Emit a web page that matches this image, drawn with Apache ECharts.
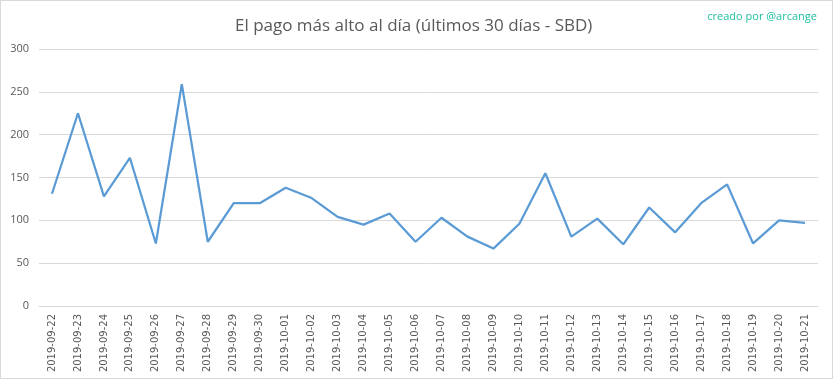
<!DOCTYPE html>
<html><head><meta charset="utf-8">
<script src="https://cdn.jsdelivr.net/npm/echarts@6/dist/echarts.min.js"></script>
<style>html,body{margin:0;padding:0;background:#fff}#c{width:833px;height:379px;box-sizing:border-box;border:1px solid #d9d9d9}</style>
</head><body><div id="c"></div>
<script>
const categories = ["2019-09-22","2019-09-23","2019-09-24","2019-09-25","2019-09-26","2019-09-27","2019-09-28","2019-09-29","2019-09-30","2019-10-01","2019-10-02","2019-10-03","2019-10-04","2019-10-05","2019-10-06","2019-10-07","2019-10-08","2019-10-09","2019-10-10","2019-10-11","2019-10-12","2019-10-13","2019-10-14","2019-10-15","2019-10-16","2019-10-17","2019-10-18","2019-10-19","2019-10-20","2019-10-21"];
const values = [131,225,128,173,73,259,75,120,120,138,126,104,95,108,75,103,81,67,96,155,81,102,72,115,86,120,142,73,100,97];
const yTicks = [0,50,100,150,200,250,300];
const titleText = "El pago más alto al día (últimos 30 días - SBD)";
const creditText = "creado por @arcange";

const chart = echarts.init(document.getElementById('c'), null, {renderer:'canvas'});
chart.setOption({
  animation:false,
  title:[
    {text:titleText,left:229,top:12,textStyle:{fontFamily:'Open Sans',fontWeight:'normal',fontSize:17,color:'#595959'}},
    {text:creditText,right:10,top:5,textStyle:{fontFamily:'Open Sans',fontWeight:'normal',fontSize:11,color:'#1fc0a0'}}
  ],
  grid:{left:38,right:14,top:48,bottom:72},
  xAxis:{type:'category',data:categories,boundaryGap:true,
    axisLine:{lineStyle:{color:'#d9d9d9'}},axisTick:{show:false},
    axisLabel:{rotate:90,interval:0,margin:8,color:'#595959',fontFamily:'DejaVu Sans',fontSize:10}},
  yAxis:{type:'value',min:yTicks[0],max:yTicks[yTicks.length-1],interval:50,
    axisLine:{show:false},axisTick:{show:false},
    splitLine:{lineStyle:{color:'#d9d9d9'}},
    axisLabel:{margin:10,color:'#595959',fontFamily:'Open Sans',fontSize:11}},
  series:[{type:'line',data:values,symbol:'none',lineStyle:{color:'#5b9bd5',width:2.25}}]
});
</script></body></html>
